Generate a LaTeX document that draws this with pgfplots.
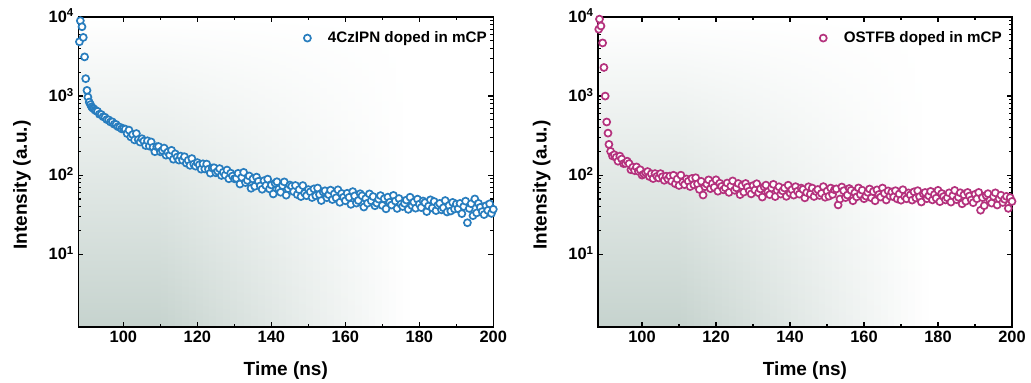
\documentclass[border=0pt]{standalone}
\usepackage{fontspec}
\setmainfont{Liberation Sans}
\usepackage{pgfplots}
\pgfplotsset{compat=1.18}
\usetikzlibrary{backgrounds,calc}
\definecolor{cblue}{RGB}{40,125,190}
\definecolor{cmag}{RGB}{180,50,125}
\definecolor{bgc}{RGB}{198,211,206}
\begin{document}
\begin{tikzpicture}
\begin{axis}[ymode=log, name=L, at={(39.15pt,27.5pt)}, anchor=south west, width=207.5pt, xmin=87.8,
  scale only axis, height=155pt,
  ymin=1.2, ymax=10000, xmax=200,
  xtick={100,120,...,200}, minor x tick num=1,
  ytick={10,100,1000,10000},
  yticklabels={10\textsuperscript{1},10\textsuperscript{2},10\textsuperscript{3},10\textsuperscript{4}},
  tick align=inside, major tick length=2.5pt, minor tick length=1.5pt,
  axis line style={line width=0.75pt},
  every tick/.append style={black, line width=0.6pt},
  tick label style={font=\bfseries\fontsize{8.2}{9}\selectfont},
  xticklabel style={inner sep=0pt, anchor=north, yshift=-1.8pt},
  yticklabel style={inner sep=0pt, anchor=base east, xshift=-1.8pt, yshift=-2.8pt},
  xlabel={Time (ns)}, ylabel={Intensity (a.u.)},
  label style={font=\bfseries\fontsize{9.5}{11}\selectfont},
  xlabel style={at={(axis description cs:0.5,-0.155)}, anchor=base},
  ylabel style={at={(axis description cs:-0.1357,0.458)}, anchor=center},
  legend image code/.code={\draw[#1] plot coordinates {(0pt,0pt)};},
  legend style={draw=none, fill=none, inner sep=0pt, column sep=8.5pt, nodes={inner sep=0pt},
    font=\bfseries\fontsize{7.6}{9}\selectfont, anchor=east, at={(rel axis cs:0.985,0.932)}},
  legend cell align=left,
  /pgf/number format/assume math mode=true]
\addplot[only marks, mark=*, mark size=1.75pt, mark options={draw=cblue, fill=white, line width=0.85pt}] coordinates {
(88.1,4860) (88.35,8970) (88.8,7530) (89.15,5520) (89.5,3130) (89.8,1660) (90.15,1180) (90.4,970) (90.75,840) (91.1,780)
(91.4,730) (91.7,705) (92.0,690) (92.3,665) (92.6,650) (93.0,640) (93.5,590) (94.0,585) (94.5,548) (95.0,540)
(95.5,505) (96.0,500) (96.5,470) (97.0,472) (97.5,440) (98.0,438) (98.5,410) (99.0,405) (99.5,385) (100.0,388)
(100.5,382) (101.0,336) (101.5,371) (102.0,304) (102.5,326) (103.0,279) (103.5,336) (104.0,281) (104.5,262) (105.0,289)
(105.5,270) (106.0,237) (106.5,272) (107.0,233) (107.5,263) (108.0,225) (108.5,198) (109.0,229) (109.5,230) (110.0,197)
(110.5,205) (111.0,220) (111.5,179) (112.0,196) (112.5,179) (113.0,206) (113.5,159) (114.0,186) (114.5,169) (115.0,155)
(115.5,174) (116.0,154) (116.5,171) (117.0,142) (117.5,154) (118.0,133) (118.5,162) (119.0,138) (119.5,130) (120.0,144)
(120.5,135) (121.0,119) (121.5,139) (122.0,120) (122.5,138) (123.0,119) (123.5,106) (124.0,123) (124.5,124) (125.0,107)
(125.5,112) (126.0,121) (126.5,99) (127.0,109) (127.5,100) (128.0,116) (128.5,90) (129.0,106) (129.5,97.5) (130.0,90)
(130.5,91.2) (131.0,105.3) (131.5,77.2) (132.0,93.7) (132.5,108.5) (133.0,80.5) (133.5,85.9) (134.0,97.6) (134.5,68.2) (135.0,89.8)
(135.5,72.3) (136.0,94.4) (136.5,83.6) (137.0,73.1) (137.5,66.3) (138.0,85.1) (138.5,73.9) (139.0,89.1) (139.5,66.9) (140.0,75.1)
(140.5,57.8) (141.0,79.0) (141.5,82.5) (142.0,66.7) (142.5,60.7) (143.0,73.7) (143.5,82.1) (144.0,55.8) (144.5,67.5) (145.0,75.0)
(145.5,72.5) (146.0,62.0) (146.5,74.0) (147.0,56.8) (147.5,65.6) (148.0,53.6) (148.5,73.8) (149.0,59.2) (149.5,55.0) (150.0,65.6)
(150.5,61.5) (151.0,52.1) (151.5,67.0) (152.0,54.9) (152.5,68.7) (153.0,56.8) (153.5,47.7) (154.0,61.3) (154.5,63.4) (155.0,51.9)
(155.5,56.6) (156.0,64.6) (156.5,49.1) (157.0,57.9) (157.5,51.7) (158.0,65.2) (158.5,45.3) (159.0,58.6) (159.5,52.6) (160.0,47.4)
(160.5,59.0) (161.0,52.4) (161.5,42.7) (162.0,61.9) (162.5,54.6) (163.0,44.3) (163.5,47.8) (164.0,58.2) (164.5,54.8) (165.0,39.5)
(165.5,50.4) (166.0,44.2) (166.5,57.9) (167.0,47.3) (167.5,53.6) (168.0,41.0) (168.5,44.3) (169.0,49.7) (169.5,55.1) (170.0,41.4)
(170.5,50.3) (171.0,37.5) (171.5,52.7) (172.0,45.5) (172.5,41.9) (173.0,55.4) (173.5,47.0) (174.0,37.9) (174.5,50.6) (175.0,43.0)
(175.5,40.1) (176.0,43.9) (176.5,48.4) (177.0,36.9) (177.5,52.6) (178.0,41.2) (178.5,45.6) (179.0,38.2) (179.5,49.7) (180.0,43.0)
(180.5,38.9) (181.0,47.1) (181.5,44.9) (182.0,34.6) (182.5,40.7) (183.0,48.7) (183.5,38.5) (184.0,46.4) (184.5,35.6) (185.0,41.6)
(185.5,43.9) (186.0,36.4) (186.5,38.7) (187.0,47.7) (187.5,34.2) (188.0,41.3) (188.5,35.2) (189.0,45.2) (189.5,37.3) (190.0,43.1)
(190.5,37.6) (191.0,43.9) (191.5,32.6) (192.0,40.1) (192.5,46.9) (193.0,25.0) (193.5,37.9) (194.0,43.5) (194.5,30.7) (195.0,50.0)
(195.5,33.3) (196.0,43.9) (196.5,39.2) (197.0,34.6) (197.5,31.7) (198.0,41.0) (198.5,35.8) (199.0,43.4) (199.5,32.8) (200.0,37.0)
};
\addlegendentry{4CzIPN doped in mCP}
\end{axis}
\begin{scope}[on background layer]
\foreach \i in {0,...,59} {
  \pgfmathsetmacro\f{(\i+0.5)/60}
  \pgfmathsetmacro\p{max(0,min(100,(0.8-\f)/0.6*100))}
  \pgfmathsetmacro\e{min(1,(\i+1.05)/60)}
  \shade[top color=white, bottom color=bgc!\p!white] ($(L.south west)!{\i/60}!(L.south east)$) rectangle ($(L.north west)!{\e}!(L.north east)$);
}
\end{scope}
\begin{axis}[ymode=log, name=R, at={(299pt,27.5pt)}, anchor=south west, width=207pt, xmin=88.1,
  scale only axis, height=155pt,
  ymin=1.2, ymax=10000, xmax=200,
  xtick={100,120,...,200}, minor x tick num=1,
  ytick={10,100,1000,10000},
  yticklabels={10\textsuperscript{1},10\textsuperscript{2},10\textsuperscript{3},10\textsuperscript{4}},
  tick align=inside, major tick length=2.5pt, minor tick length=1.5pt,
  axis line style={line width=0.75pt},
  every tick/.append style={black, line width=0.6pt},
  tick label style={font=\bfseries\fontsize{8.2}{9}\selectfont},
  xticklabel style={inner sep=0pt, anchor=north, yshift=-1.8pt},
  yticklabel style={inner sep=0pt, anchor=base east, xshift=-1.8pt, yshift=-2.8pt},
  xlabel={Time (ns)}, ylabel={Intensity (a.u.)},
  label style={font=\bfseries\fontsize{9.5}{11}\selectfont},
  xlabel style={at={(axis description cs:0.5,-0.155)}, anchor=base},
  ylabel style={at={(axis description cs:-0.1357,0.458)}, anchor=center},
  legend image code/.code={\draw[#1] plot coordinates {(0pt,0pt)};},
  legend style={draw=none, fill=none, inner sep=0pt, column sep=8.5pt, nodes={inner sep=0pt},
    font=\bfseries\fontsize{7.6}{9}\selectfont, anchor=east, at={(rel axis cs:0.976,0.932)}},
  legend cell align=left,
  /pgf/number format/assume math mode=true]
\addplot[only marks, mark=*, mark size=1.75pt, mark options={draw=cmag, fill=white, line width=0.85pt}] coordinates {
(88.3,7000) (88.5,9400) (88.9,7700) (89.35,4700) (89.7,2300) (90.05,1000) (90.45,470) (90.8,340) (91.05,245) (91.5,200)
(92.0,175) (92.5,181) (93.0,168) (93.5,150) (94.0,174) (94.5,160) (95.0,140) (95.5,141) (96.0,150) (96.5,140)
(97.0,117) (97.5,126) (98.0,114) (98.5,127) (99.0,112) (99.5,117) (100.0,100) (100.5,103) (101.0,107) (101.5,111)
(102.0,96) (102.5,104) (103.0,90.5) (103.5,104.6) (104.0,96.5) (104.5,92.2) (105.0,104.5) (105.5,95.4) (106.0,86) (106.5,97)
(107.0,89.2) (107.5,97.2) (108.0,83.7) (108.5,99.7) (109.0,77.9) (109.5,89.3) (110.0,74.0) (110.5,99.9) (111.0,81.4) (111.5,75.8)
(112.0,89.5) (112.5,83.8) (113.0,71.7) (113.5,90.8) (114.0,75.5) (114.5,92.7) (115.0,77.6) (115.5,65.9) (116.0,83.5) (116.5,56)
(117.0,71.4) (117.5,77) (118.0,87.1) (118.5,67.5) (119.0,78.2) (119.5,70.1) (120.0,87.3) (120.5,62.6) (121.0,79.1) (121.5,72.1)
(122.0,65.2) (122.5,69.1) (123.0,79.5) (123.5,60.5) (124.0,72.9) (124.5,84.5) (125.0,64.4) (125.5,69.0) (126.0,78.4) (126.5,56.7)
(127.0,73.6) (127.5,61.0) (128.0,78.4) (128.5,70.6) (129.0,62.9) (129.5,57.9) (130.0,73.7) (130.5,64.8) (131.0,77.9) (131.5,59.8)
(132.0,66.9) (132.5,52.8) (133.0,71.1) (133.5,74.8) (134.0,61.5) (134.5,56.7) (135.0,68.9) (135.5,76.5) (136.0,53.6) (136.5,64.4)
(137.0,71.3) (137.5,57.6) (138.0,63.2) (138.5,68.7) (139.0,53.9) (139.5,74.6) (140.0,59.2) (140.5,65.4) (141.0,55.9) (141.5,71.5)
(142.0,62.6) (142.5,57.5) (143.0,68.6) (143.5,66.0) (144.0,51.6) (144.5,60.2) (145.0,71.3) (145.5,57.6) (146.0,68.6) (146.5,53.7)
(147.0,62.2) (147.5,65.8) (148.0,55.3) (148.5,58.8) (149.0,71.6) (149.5,52.5) (150.0,62.8) (150.5,54.2) (151.0,68.6) (151.5,57.0)
(152.0,65.3) (152.5,67.0) (153.0,42) (153.5,49.9) (154.0,70.8) (154.5,63.5) (155.0,52.0) (155.5,56.0) (156.0,67.8) (156.5,64.2)
(157.0,47.4) (157.5,59.7) (158.0,53.1) (158.5,68.9) (159.0,57.0) (159.5,64.5) (160.0,50.3) (160.5,54.3) (161.0,60.6) (161.5,66.8)
(162.0,51.6) (162.5,62.0) (163.0,47.4) (163.5,65.1) (164.0,56.9) (164.5,52.8) (165.0,68.7) (165.5,58.8) (166.0,48.5) (166.5,63.2)
(167.0,54.5) (167.5,61.1) (168.0,53.1) (168.5,63.6) (169.0,50.0) (169.5,57.8) (170.0,48.2) (170.5,65.4) (171.0,53.6) (171.5,50.2)
(172.0,59.6) (172.5,56.2) (173.0,48.3) (173.5,61.5) (174.0,51.4) (174.5,63.6) (175.0,53.5) (175.5,45.7) (176.0,58.3) (176.5,60.4)
(177.0,50.4) (177.5,54.8) (178.0,62.4) (178.5,48.6) (179.0,56.7) (179.5,51.2) (180.0,64.3) (180.5,46.2) (181.0,58.6) (181.5,53.6)
(182.0,48.6) (182.5,51.7) (183.0,59.7) (183.5,45.6) (184.0,55.1) (184.5,64.1) (185.0,49.0) (185.5,52.6) (186.0,59.9) (186.5,43.4)
(187.0,56.4) (187.5,46.8) (188.0,60.4) (188.5,54.5) (189.0,48.6) (189.5,44.8) (190.0,57.2) (190.5,50.3) (191.0,60.5) (191.5,36)
(192.0,52.0) (192.5,41.1) (193.0,55.4) (193.5,58.3) (194.0,47.9) (194.5,44.3) (195.0,53.8) (195.5,59.7) (196.0,41.9) (196.5,50.4)
(197.0,55.8) (197.5,45.1) (198.0,49.5) (198.5,53.9) (199.0,38) (199.5,52) (200.0,46.5)
};
\addlegendentry{OSTFB doped in mCP}
\end{axis}
\begin{scope}[on background layer]
\foreach \i in {0,...,59} {
  \pgfmathsetmacro\f{(\i+0.5)/60}
  \pgfmathsetmacro\p{max(0,min(100,(0.8-\f)/0.6*100))}
  \pgfmathsetmacro\e{min(1,(\i+1.05)/60)}
  \shade[top color=white, bottom color=bgc!\p!white] ($(R.south west)!{\i/60}!(R.south east)$) rectangle ($(R.north west)!{\e}!(R.north east)$);
}
\end{scope}
\pgfresetboundingbox
\path[use as bounding box] (0,0) rectangle (515.5pt,191pt);
\end{tikzpicture}
\end{document}
